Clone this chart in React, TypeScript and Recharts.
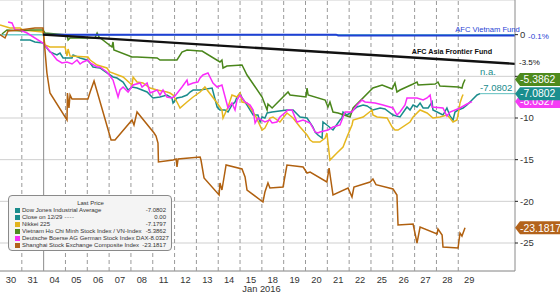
import React from 'react';
import { LineChart, Line, XAxis, YAxis, CartesianGrid, ReferenceLine, ReferenceDot, Legend } from 'recharts';

const DAY_LABELS = ['30', '31', '04', '05', '06', '07', '08', '11', '12', '13', '14', '15', '18', '19', '20', '21', '22', '25', '26', '27', '28', '29'];
const DAY_TICKS = DAY_LABELS.map((_, i) => i);
const DAY_BOUNDARIES = DAY_LABELS.slice(1).map((_, i) => i + 0.5);
const YEAR_BOUNDARY = 1.5;
const Y_TICKS = [0, -5, -10, -15, -20, -25];
const X_MIN = -0.5;
const X_MAX = 23.1;
const Y_MIN = -28.36;
const Y_MAX = 4.16;

// [day index, % change since close on 12/29]
const DOW_JONES: [number, number][] = [
  [0.42, -0.64], [0.88, -0.64], [1.10, -0.88], [1.47, -1.00], [1.79, -2.08], [2.11, -2.44], [2.25, -2.20], [2.39, -2.80],
  [2.80, -2.80], [2.85, -2.44], [3.17, -2.80], [3.49, -3.04], [3.63, -3.40], [3.76, -3.88], [4.08, -4.00], [4.40, -4.60],
  [4.68, -5.08], [4.86, -5.20], [5.14, -5.68], [5.37, -6.64], [5.55, -6.28], [5.78, -6.40], [6.24, -6.88], [6.51, -7.60],
  [6.83, -7.48], [7.15, -7.24], [7.38, -7.60], [7.43, -8.20], [7.61, -7.60], [7.84, -7.48], [8.07, -7.24], [8.21, -6.88],
  [8.35, -6.64], [8.67, -6.64], [9.22, -6.40], [9.45, -8.68], [9.58, -9.04], [9.81, -9.04], [9.95, -9.28], [10.13, -8.44],
  [10.27, -8.08], [10.36, -7.48], [10.50, -7.00], [10.59, -7.60], [10.82, -8.44], [11.10, -9.64], [11.32, -9.64], [11.42, -10.48],
  [11.51, -9.88], [11.64, -10.00], [11.74, -9.40], [11.97, -9.28], [12.65, -9.04], [12.93, -9.04], [13.25, -9.88], [13.57, -10.00],
  [13.84, -11.08], [13.94, -11.68], [14.07, -12.04], [14.26, -12.40], [14.30, -10.48], [14.48, -10.84], [14.76, -11.44], [15.08, -10.24],
  [15.17, -10.00], [15.22, -9.28], [15.40, -9.64], [15.54, -9.40], [15.86, -8.68], [16.14, -8.44], [16.32, -8.56], [16.59, -9.04],
  [16.92, -8.80], [17.14, -8.92], [17.51, -9.64], [17.83, -9.88], [18.15, -8.68], [18.29, -9.04], [18.43, -8.44], [18.61, -8.68],
  [18.75, -8.20], [18.89, -8.80], [19.12, -8.80], [19.30, -8.08], [19.34, -9.04], [19.53, -9.28], [19.80, -9.64], [19.98, -8.80],
  [20.12, -9.76], [20.26, -10.24], [20.35, -9.28], [20.49, -9.04], [20.72, -8.80], [20.90, -8.44], [21.13, -7.84], [21.36, -7.24],
  [21.50, -7.0802],
];

const CLOSE_1229: [number, number][] = [[-0.5, 0], [23.1, 0]];

const NIKKEI: [number, number][] = [
  [-0.50, 1.16], [-0.04, 0.80], [0.42, 0.80], [0.55, 0.56], [1.47, 0.32], [1.56, -1.24], [1.79, -1.48], [2.48, -1.48],
  [2.57, -2.56], [2.62, -1.72], [2.71, -2.56], [3.53, -2.68], [3.63, -3.04], [3.95, -3.64], [4.40, -4.00], [4.53, -4.48],
  [5.14, -5.08], [5.55, -6.04], [5.60, -5.08], [5.78, -5.68], [6.05, -5.80], [6.38, -6.40], [6.70, -6.64], [7.15, -6.88],
  [7.29, -7.00], [7.43, -7.24], [7.61, -8.08], [7.75, -8.80], [8.07, -8.08], [8.35, -7.48], [8.67, -6.88], [8.89, -6.28],
  [9.45, -8.20], [9.67, -9.04], [9.72, -10.00], [9.95, -8.68], [10.13, -7.24], [10.36, -7.48], [10.50, -7.00], [10.59, -8.08],
  [10.82, -8.20], [11.19, -9.64], [11.51, -11.44], [11.64, -11.20], [11.87, -10.00], [12.01, -9.88], [12.33, -10.48], [12.65, -9.40],
  [12.93, -10.00], [13.25, -11.08], [13.57, -12.04], [13.71, -12.64], [13.84, -12.88], [14.16, -12.88], [14.40, -12.40], [14.48, -11.80],
  [14.62, -15.04], [14.94, -14.20], [15.22, -13.48], [15.40, -12.28], [15.63, -10.84], [15.68, -10.24], [16.14, -9.88], [16.55, -9.04],
  [16.59, -9.64], [16.78, -9.88], [17.24, -10.00], [17.47, -11.08], [17.60, -11.44], [17.74, -11.44], [18.29, -10.48], [18.43, -9.88],
  [18.75, -9.04], [19.07, -9.40], [19.34, -10.00], [19.66, -9.88], [19.98, -9.64], [20.12, -10.00], [20.26, -10.48], [20.44, -10.24],
  [20.49, -9.64], [20.58, -8.20], [20.67, -7.48], [20.72, -7.1797],
];

const VN_INDEX: [number, number][] = [
  [-0.41, 0.08], [-0.18, 0.56], [0.51, 0.44], [0.88, 0.56], [1.47, 0.56], [1.56, 0.20], [2.57, -0.04], [2.62, -0.64],
  [2.71, -0.40], [3.85, -0.40], [3.95, 0.20], [4.04, -0.28], [4.63, -1.48], [4.68, -0.88], [4.72, -1.84], [5.55, -2.68],
  [5.78, -2.68], [6.70, -2.80], [6.83, -3.04], [7.61, -3.04], [7.84, -2.08], [8.07, -1.84], [8.67, -1.96], [8.76, -1.96],
  [9.58, -3.28], [9.67, -3.04], [9.72, -4.00], [9.90, -3.76], [10.59, -3.64], [10.82, -4.84], [11.51, -7.48], [11.74, -9.04],
  [11.78, -8.32], [11.97, -8.80], [12.70, -6.88], [12.79, -7.24], [13.52, -7.48], [13.57, -6.40], [13.62, -7.24], [14.40, -7.84],
  [14.53, -8.68], [14.62, -8.08], [14.76, -9.28], [14.99, -9.40], [15.54, -9.88], [15.68, -8.80], [16.59, -6.40], [17.01, -6.04],
  [17.47, -6.52], [17.60, -5.80], [17.69, -6.88], [17.83, -6.64], [18.43, -5.92], [18.61, -5.68], [18.66, -6.04], [19.44, -5.92],
  [19.57, -5.68], [19.66, -6.16], [20.49, -6.28], [20.67, -6.40], [20.72, -5.92], [20.81, -5.3862],
];

const DAX: [number, number][] = [
  [-0.13, 1.52], [0.05, 1.40], [0.19, 0.56], [0.42, 0.56], [0.74, 0.20], [1.47, -1.00], [1.93, -2.44], [2.11, -3.04],
  [2.34, -3.40], [2.57, -3.28], [2.80, -3.52], [3.03, -3.04], [3.17, -3.52], [3.30, -3.28], [3.53, -3.04], [3.63, -3.40],
  [3.95, -3.88], [4.08, -3.88], [4.40, -4.48], [4.68, -5.44], [4.91, -7.48], [5.00, -6.64], [5.14, -6.28], [5.37, -6.88],
  [5.60, -6.04], [5.92, -5.80], [6.01, -6.28], [6.24, -5.80], [6.38, -7.00], [6.70, -6.64], [6.83, -7.24], [6.97, -6.64],
  [7.15, -7.48], [7.38, -7.60], [7.52, -7.36], [7.84, -6.28], [8.07, -5.44], [8.12, -6.04], [8.35, -5.80], [8.57, -5.68],
  [8.67, -5.20], [8.80, -4.84], [9.03, -4.60], [9.26, -5.80], [9.45, -6.28], [9.67, -6.04], [9.95, -8.80], [10.13, -8.20],
  [10.27, -9.04], [10.36, -7.84], [10.50, -7.24], [10.73, -8.08], [10.96, -8.44], [11.10, -9.04], [11.19, -10.60], [11.32, -10.00],
  [11.64, -10.48], [11.87, -10.24], [11.97, -10.60], [12.19, -10.48], [12.33, -9.88], [12.70, -9.04], [12.88, -9.04], [13.11, -10.48],
  [13.39, -10.24], [13.71, -10.60], [13.94, -11.68], [14.07, -11.80], [14.16, -11.68], [14.53, -11.44], [14.76, -11.08], [15.08, -10.84],
  [15.31, -9.28], [15.63, -9.28], [15.86, -8.44], [16.09, -7.84], [16.23, -8.08], [16.69, -8.20], [17.05, -8.44], [17.51, -8.80],
  [17.69, -9.64], [17.83, -9.28], [18.06, -8.44], [18.15, -7.60], [18.61, -7.60], [18.89, -7.84], [19.07, -7.60], [19.21, -7.24],
  [19.30, -8.68], [19.80, -8.80], [19.98, -9.76], [20.12, -9.28], [20.58, -8.80], [20.90, -8.32], [21.13, -8.0327],
];

const SHANGHAI: [number, number][] = [
  [-0.50, 0.00], [-0.27, -0.40], [-0.13, 0.44], [0.42, 0.56], [1.10, 0.80], [1.47, 0.80], [1.56, -1.84], [1.65, -4.60],
  [1.79, -7.00], [2.57, -10.24], [2.59, -7.00], [2.66, -8.80], [2.71, -7.24], [2.80, -7.72], [3.53, -7.72], [3.63, -6.88],
  [3.81, -5.56], [4.59, -12.64], [4.77, -12.64], [5.55, -10.24], [5.64, -10.84], [5.78, -9.28], [6.56, -11.80], [6.65, -12.16],
  [6.74, -13.00], [6.76, -15.28], [7.43, -15.04], [7.57, -14.92], [7.61, -15.88], [7.66, -14.92], [8.67, -14.68], [8.71, -15.04],
  [8.85, -17.20], [9.54, -19.24], [9.58, -17.80], [9.67, -18.64], [9.86, -15.64], [10.59, -16.12], [10.73, -17.08], [10.82, -18.64],
  [11.55, -20.08], [11.64, -18.88], [11.78, -17.80], [11.87, -18.40], [12.47, -18.28], [12.65, -15.64], [13.39, -15.88], [13.57, -16.60],
  [13.71, -16.48], [14.48, -17.68], [14.58, -16.00], [14.76, -19.24], [15.45, -18.40], [15.63, -19.48], [15.72, -18.28], [16.46, -17.68],
  [16.59, -17.32], [16.73, -18.00], [17.51, -18.52], [17.69, -19.24], [17.74, -22.84], [18.43, -22.72], [18.61, -25.00], [18.75, -23.08],
  [19.53, -23.92], [19.57, -23.32], [19.76, -24.04], [19.80, -25.48], [20.49, -25.60], [20.58, -23.80], [20.67, -24.16], [20.81, -23.1817],
];

const AFC_VIETNAM: [number, number][] = [[1.47, 0], [14.9, 0], [15.0, -0.1], [23.1, -0.1]];
const AFC_ASIA_FRONTIER: [number, number][] = [[1.47, 0], [23.1, -3.5]];

const LEGEND_NAMES = [
  'Dow Jones Industrial Average',
  'Close on 12/29',
  'Nikkei 225',
  'Vietnam Ho Chi Minh Stock Index / VN-Index',
  'Deutsche Boerse AG German Stock Index DAX',
  'Shanghai Stock Exchange Composite Index',
];
const LEGEND_VALUES = ['-7.0802', '0.00', '-7.1797', '-5.3862', '-8.0327', '-23.1817'];
const LEGEND_COLORS = ['#1a8c8c', '#1a8c8c', '#e2b31e', '#4d8a1f', '#f52ff5', '#b2621a'];

const C_TEAL = '#1a8c8c';
const C_GOLD = '#e6b71e';
const C_GREEN = '#4a861b';
const C_MAGENTA = '#fa2cfa';
const C_BROWN = '#b0600f';
const C_BLUE = '#1f3fd4';

const pts = (arr: [number, number][]) => arr.map(([x, y]) => ({ x, y }));
const last = (arr: [number, number][]) => arr[arr.length - 1];

const FONT = '"Liberation Sans", Arial, sans-serif';

const Callout = ({ cx, cy, fill, text }: any) => {
  if (cx == null || cy == null) return null;
  const h = 6.5;
  return (
    <g>
      <polygon
        points={`${cx},${cy} ${cx + 5},${cy - h} ${cx + 45},${cy - h} ${cx + 45},${cy + h} ${cx + 5},${cy + h}`}
        fill={fill}
      />
      <text x={cx + 5} y={cy + 3.8} fill="#fff" fontSize={10.4} fontFamily={FONT}>{text}</text>
    </g>
  );
};

const SideText = ({ cx, cy, dx, dy, color, text, size, weight, anchor }: any) => {
  if (cx == null || cy == null) return null;
  return (
    <text x={cx + dx} y={cy + dy} fill={color} fontSize={size} fontWeight={weight || 'normal'} fontFamily={FONT} textAnchor={anchor || 'start'}>
      {text}
    </text>
  );
};

const LegendBox = () => (
  <div
    style={{
      width: 164,
      height: 56,
      boxSizing: 'border-box',
      border: '1px solid #8a8a8a',
      borderRadius: 4,
      background: '#f4f4f4',
      fontFamily: FONT,
      fontSize: 6,
      color: '#333',
      padding: '4px 5px 0 6px',
      lineHeight: '7px',
      textAlign: 'left',
    }}
  >
    <div style={{ textAlign: 'center' }}>Last Price</div>
    {LEGEND_NAMES.map((name, i) => (
      <div key={name} style={{ display: 'flex', alignItems: 'center', height: 7 }}>
        <span style={{ width: 5, height: 5, background: LEGEND_COLORS[i], marginRight: 2, flex: 'none' }} />
        <span style={{ flex: 1, whiteSpace: 'nowrap' }}>
          {name}
          {i === 1 ? <span style={{ color: '#555', letterSpacing: 0.5 }}> ----</span> : null}
        </span>
        <span>{LEGEND_VALUES[i]}</span>
      </div>
    ))}
  </div>
);

const YTick = ({ x, y, payload }: any) => {
  if (payload.value === -5) return null;
  return (
    <text x={x} y={y + 3.3} fill="#333" fontSize={9.5} fontFamily={FONT} textAnchor="start">{payload.value}</text>
  );
};

const lineProps = { dataKey: 'y', dot: false, activeDot: false, isAnimationActive: false, type: 'linear' as const };

export default function App() {
  const dj = last(DOW_JONES);
  const vn = last(VN_INDEX);
  const dax = last(DAX);
  const sh = last(SHANGHAI);
  const blue = last(AFC_VIETNAM);
  const black = last(AFC_ASIA_FRONTIER);
  return (
    <div style={{ position: 'absolute', left: 0, top: 0, width: 560, height: 293, background: '#fff' }}>
      <LineChart width={560} height={293} margin={{ top: 0, right: 0, bottom: 0, left: 0 }} style={{ fontFamily: FONT }}>
        <CartesianGrid vertical={false} stroke="#cfcfcf" />
        {DAY_BOUNDARIES.map((b) =>
          b === YEAR_BOUNDARY ? (
            <ReferenceLine key={b} x={b} stroke="#8c8c8c" strokeWidth={1} />
          ) : (
            <ReferenceLine key={b} x={b} stroke="#9a9a9a" strokeDasharray="4 3" strokeWidth={1} />
          )
        )}
        <XAxis
          type="number"
          dataKey="x"
          domain={[X_MIN, X_MAX]}
          allowDataOverflow
          ticks={DAY_TICKS}
          interval={0}
          tickFormatter={(v: number) => DAY_LABELS[v] ?? ''}
          tickLine={false}
          tickSize={3}
          axisLine={{ stroke: '#9a9a9a' }}
          tick={{ fontSize: 9.3, fill: '#333' }}
          height={22}
          label={{ value: 'Jan 2016', position: 'insideBottom', offset: 1, dx: 4, fontSize: 9.3, fill: '#333' }}
        />
        <YAxis
          type="number"
          orientation="right"
          width={45}
          domain={[Y_MIN, Y_MAX]}
          allowDataOverflow
          ticks={Y_TICKS}
          interval={0}
          tickSize={3}
          tickMargin={2}
          tickLine={{ stroke: '#222' }}
          axisLine={{ stroke: '#8a8a8a' }}
          tick={<YTick />}
        />
        <Line {...lineProps} data={pts(CLOSE_1229)} stroke="#6fcccc" strokeWidth={1.5} />
        <Line {...lineProps} data={pts(DOW_JONES)} stroke={C_TEAL} strokeWidth={1.5} />
        <Line {...lineProps} data={pts(NIKKEI)} stroke={C_GOLD} strokeWidth={1.5} />
        <Line {...lineProps} data={pts(VN_INDEX)} stroke={C_GREEN} strokeWidth={1.5} />
        <Line {...lineProps} data={pts(DAX)} stroke={C_MAGENTA} strokeWidth={1.5} />
        <Line {...lineProps} data={pts(SHANGHAI)} stroke={C_BROWN} strokeWidth={1.5} />
        <Line {...lineProps} data={pts(AFC_VIETNAM)} stroke={C_BLUE} strokeWidth={2} />
        <Line {...lineProps} data={pts(AFC_ASIA_FRONTIER)} stroke="#111" strokeWidth={2.4} />
        <ReferenceLine
          segment={[{ x: dj[0], y: dj[1] }, { x: X_MAX, y: dj[1] }]}
          stroke="#5fbfbf"
          strokeWidth={1}
        />
        <ReferenceDot x={21.84} y={0.32} r={0} ifOverflow="visible"
          shape={(p: any) => <SideText {...p} dx={0} dy={0} color={C_BLUE} text="AFC Vietnam Fund" size={7.6} anchor="middle" />} />
        <ReferenceDot x={20.21} y={-2.32} r={0} ifOverflow="visible"
          shape={(p: any) => <SideText {...p} dx={0} dy={0} color="#111" text="AFC Asia Frontier Fund" size={7.2} weight="bold" anchor="middle" />} />
        <ReferenceDot x={dj[0]} y={dj[1]} r={0} ifOverflow="visible"
          shape={(p: any) => (
            <g>
              <SideText {...p} dx={0} dy={-19} color={C_TEAL} text="n.a." size={9.5} />
              <SideText {...p} dx={0} dy={-3} color={C_TEAL} text={LEGEND_VALUES[0]} size={9.5} />
            </g>
          )} />
        <ReferenceDot x={X_MAX} y={blue[1]} r={0} ifOverflow="visible"
          shape={(p: any) => <SideText {...p} dx={13} dy={3} color={C_BLUE} text="-0.1%" size={8} />} />
        <ReferenceDot x={X_MAX} y={black[1]} r={0} ifOverflow="visible"
          shape={(p: any) => <SideText {...p} dx={4} dy={1} color="#111" text="-3.5%" size={8} />} />
        <ReferenceDot x={X_MAX} y={dax[1]} r={0} ifOverflow="visible"
          shape={(p: any) => <Callout {...p} fill="#f53cf5" text={LEGEND_VALUES[4]} />} />
        <ReferenceDot x={X_MAX} y={dj[1]} r={0} ifOverflow="visible"
          shape={(p: any) => <Callout {...p} fill="#1a8e8e" text={LEGEND_VALUES[0]} />} />
        <ReferenceDot x={X_MAX} y={vn[1]} r={0} ifOverflow="visible"
          shape={(p: any) => <Callout {...p} fill="#4e8a1d" text={LEGEND_VALUES[3]} />} />
        <ReferenceDot x={X_MAX} y={sh[1]} r={0} ifOverflow="visible"
          shape={(p: any) => <Callout {...p} fill="#b3631b" text={LEGEND_VALUES[5]} />} />
        <Legend
          content={() => <LegendBox />}
          layout="horizontal"
          verticalAlign="middle"
          align="center"
          wrapperStyle={{ left: 8, top: 195, width: 164, height: 56 }}
        />
      </LineChart>
    </div>
  );
}
